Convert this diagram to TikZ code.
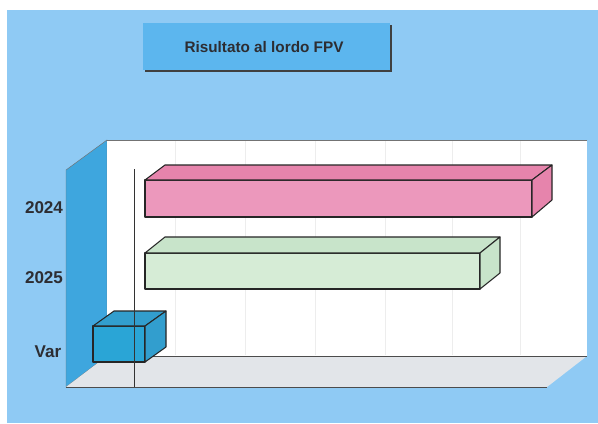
\documentclass[tikz,border=0pt]{standalone}
\usepackage{fontspec}
\setmainfont{Liberation Sans}
\definecolor{bgblue}{RGB}{143,202,244}
\definecolor{boxblue}{RGB}{92,182,238}
\definecolor{wallblue}{RGB}{62,166,222}
\definecolor{floorgray}{RGB}{226,229,233}
\definecolor{pinkfront}{RGB}{236,152,188}
\definecolor{pinktop}{RGB}{230,132,172}
\definecolor{greenfront}{RGB}{214,236,214}
\definecolor{greentop}{RGB}{200,228,202}
\definecolor{cubeblue}{RGB}{42,165,214}
\definecolor{cubetop}{RGB}{50,158,206}
\definecolor{textgray}{RGB}{45,45,50}
\tikzset{
  barline/.style={draw=black!85, line width=0.9pt, line join=round},
  gridline/.style={draw=black!7, line width=0.6pt},
  yearlabel/.style={text=textgray, font=\fontsize{14.5}{16}\selectfont\bfseries}
}
\begin{document}
\begin{tikzpicture}[x=0.85pt, y=-0.85pt]
    \useasboundingbox (0,0) rectangle (598,423);
    \fill[white] (0,0) rectangle (598,423);
    \fill[bgblue] (7,10) rectangle (598,423);

    % title box with shadow
    \fill[black!75] (145,25) rectangle (392,72);
    \fill[boxblue] (143,23) rectangle (390,70);
    \node[text=textgray, font=\fontsize{13}{15}\selectfont\bfseries] (title) at (264,47) {Risultato al lordo FPV};

    % walls and floor
    \filldraw[wallblue, draw=black!55] (66,170)--(107,140)--(107,356)--(66,387)--cycle;
    \fill[white] (107,140) rectangle (587,356);
    \fill[floorgray] (66,387)--(107,356)--(587,356)--(547,387)--cycle;
    \draw[black!55, line width=0.8pt] (107,140)--(587,140);
    \draw[black!70, line width=0.8pt] (107,356)--(587,356);
    \draw[black!70, line width=0.8pt] (66,387)--(547,387);
    \foreach \gx in {175,245,315,385,452,520}
        \draw[gridline] (\gx,141)--(\gx,355);

    % 2024
    \filldraw[pinkfront, barline] (145,180) rectangle (532,217);
    \filldraw[pinktop, barline] (145,180)--(165,165)--(552,165)--(532,180)--cycle;
    \filldraw[pinktop, barline] (532,180)--(552,165)--(552,200)--(532,217)--cycle;

    % 2025
    \filldraw[greenfront, barline] (145,253) rectangle (480,289);
    \filldraw[greentop, barline] (145,253)--(165,237)--(500,237)--(480,253)--cycle;
    \filldraw[greentop, barline] (480,253)--(500,237)--(500,273)--(480,289)--cycle;

    % Var
    \filldraw[cubeblue, barline] (93,326) rectangle (145,362);
    \filldraw[cubetop, barline] (93,326)--(114,311)--(166,311)--(145,326)--cycle;
    \filldraw[cubetop, barline] (145,326)--(166,311)--(166,347)--(145,362)--cycle;

    \draw[black!80, line width=0.8pt] (134,169)--(134,387);

    \node[yearlabel] (lab2024) at (44,208) {2024};
    \node[yearlabel] (lab2025) at (44,278) {2025};
    \node[yearlabel] (labvar) at (48,352) {Var};
\end{tikzpicture}
\end{document}
